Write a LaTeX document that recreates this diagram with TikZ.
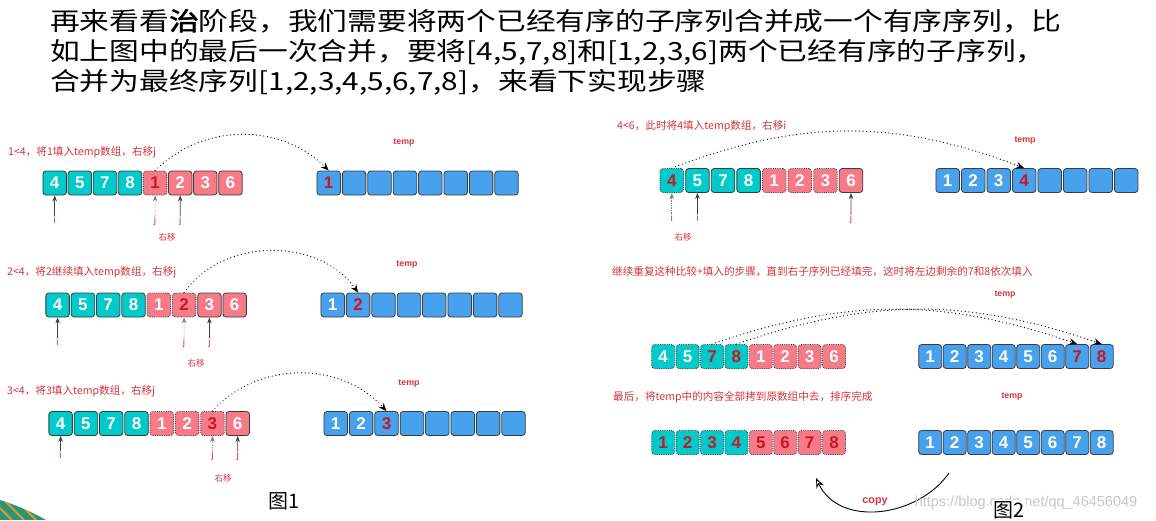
\documentclass[tikz,border=0pt]{standalone}
\usepackage{fontspec}
\setmainfont{Noto Sans CJK SC}[AutoFakeBold=2]
\newfontfamily\titlefont{Noto Sans CJK SC}[FakeStretch=1.19,AutoFakeBold=2.5]
\newfontfamily\numfont{Liberation Sans}
\usetikzlibrary{arrows.meta}
\definecolor{tealc}{RGB}{0,202,202}
\definecolor{pinkc}{RGB}{246,122,136}
\definecolor{bluec}{RGB}{72,161,236}
\definecolor{edgec}{RGB}{60,60,60}
\definecolor{notered}{RGB}{212,52,58}
\definecolor{digred}{RGB}{196,26,38}
\definecolor{decogreen}{RGB}{38,150,120}
\definecolor{decoorange}{RGB}{232,150,40}

\begin{document}
\begin{tikzpicture}[x=1pt,y=-1pt,
  cell/.style={draw=edgec, line width=0.8pt, rounded corners=3pt, minimum width=23.5pt,
    minimum height=24pt, inner sep=0pt, font=\numfont\bfseries\fontsize{17}{17}\selectfont},
  tc/.style={cell, fill=tealc},
  td/.style={cell, fill=tealc, densely dotted},
  pc/.style={cell, fill=pinkc},
  pd/.style={cell, fill=pinkc, densely dotted},
  bc/.style={cell, fill=bluec},
  title/.style={anchor=west, inner sep=0pt, font=\titlefont\fontsize{25}{30}\selectfont},
  note/.style={anchor=west, inner sep=0pt, text=notered, font=\fontsize{10.6}{12}\selectfont},
  tmplabel/.style={text=notered, font=\numfont\bfseries\fontsize{8.8}{10}\selectfont},
  ptrlabel/.style={anchor=north, inner sep=0.5pt, text=notered, font=\numfont\fontsize{10}{10}\selectfont},
  shiftlabel/.style={text=notered, font=\fontsize{8.5}{10}\selectfont},
  figlabel/.style={font=\fontsize{20}{20}\selectfont},
  ptr/.style={-{Stealth[length=6pt,width=4.5pt]}, line width=0.7pt, draw=black!75},
  oldptr/.style={ptr, densely dotted, draw=black!50},
  hop/.style={-{Stealth[length=8pt,width=6.5pt]}, line width=1.2pt,
    dash pattern=on 0.1pt off 3.6pt, line cap=round},
  copyarrow/.style={-{Stealth[open,length=10pt,width=8pt]}, line width=0.9pt},
  ]
  \useasboundingbox (0,0) rectangle (1156,520);
  \fill[white] (0,0) rectangle (1156,520);

  %%% slide corner decoration %%%
  \begin{scope}
    \clip (0,500) .. controls (16,505) and (32,512) .. (46,520) -- (0,520) -- cycle;
    \fill[decogreen] (0,495) rectangle (50,520);
    \foreach \sx in {-8,4,16,28}
      \draw[decoorange, line width=2pt] (\sx,500) -- (\sx+20,520);
  \end{scope}

  %%% heading %%%
  \node[title] (line1) at (50,21) {再来看看\textbf{治}阶段，我们需要将两个已经有序的子序列合并成一个有序序列，比};
  \node[title] (line2) at (50,52) {如上图中的最后一次合并，要将[4,5,7,8]和[1,2,3,6]两个已经有序的子序列，};
  \node[title] (line3) at (50,82) {合并为最终序列[1,2,3,4,5,6,7,8]，来看下实现步骤};

  %%% step 1: 1<4 %%%
  \node[note] (p1note) at (8,152) {1<4，将1填入temp数组，右移j};
  \foreach \k/\v/\s/\d in {1/4/tc/white,2/5/tc/white,3/7/tc/white,4/8/tc/white,
                          5/1/pd/digred,6/2/pc/white,7/3/pc/white,8/6/pc/white}
    \node[\s, text=\d] (p1a\k) at ({54.7+25.1*(\k-1)},183) {\v};
  \node[tmplabel] (p1tmp) at (404,143) {temp};
  \foreach \k/\v/\d in {1/1/digred,2//white,3//white,4//white,5//white,6//white,7//white,8//white}
    \node[bc, text=\d] (p1t\k) at ({328.7+25.4*(\k-1)},183) {\v};
  \node[ptrlabel] (p1i) at (54.7,216) {i};
  \node[ptrlabel] (p1jo) at (155.1,216) {j};
  \node[ptrlabel] (p1j) at (180.2,216) {j};
  \node[shiftlabel] (p1shift) at (167,237) {右移};
  \draw[ptr] (p1i) -- (p1a1);
  \draw[oldptr] (p1jo) -- (p1a5);
  \draw[ptr] (p1j) -- (p1a6);
  \draw[hop] (p1a5.north) to[bend left=45] (p1t1.north);

  %%% step 2: 2<4 %%%
  \node[note] (p2note) at (7,272) {2<4，将2继续填入temp数组，右移j};
  \foreach \k/\v/\s/\d in {1/4/tc/white,2/5/tc/white,3/7/tc/white,4/8/tc/white,
                          5/1/pd/white,6/2/pd/digred,7/3/pc/white,8/6/pc/white}
    \node[\s, text=\d] (p2a\k) at ({57.6+25.3*(\k-1)},305) {\v};
  \node[tmplabel] (p2tmp) at (407,265) {temp};
  \foreach \k/\v/\d in {1/1/white,2/2/digred,3//white,4//white,5//white,6//white,7//white,8//white}
    \node[bc, text=\d] (p2t\k) at ({332.7+25.4*(\k-1)},305) {\v};
  \node[ptrlabel] (p2i) at (57.6,338) {i};
  \node[ptrlabel] (p2jo) at (184.1,338) {j};
  \node[ptrlabel] (p2j) at (209.4,338) {j};
  \node[shiftlabel] (p2shift) at (196,363) {右移};
  \draw[ptr] (p2i) -- (p2a1);
  \draw[oldptr] (p2jo) -- (p2a6);
  \draw[ptr] (p2j) -- (p2a7);
  \draw[hop] (p2a6.north) to[bend left=55] (p2t2.north);

  %%% step 3: 3<4 %%%
  \node[note] (p3note) at (7,391) {3<4，将3填入temp数组，右移j};
  \foreach \k/\v/\s/\d in {1/4/tc/white,2/5/tc/white,3/7/tc/white,4/8/tc/white,
                          5/1/pd/white,6/2/pd/white,7/3/pd/digred,8/6/pc/white}
    \node[\s, text=\d] (p3a\k) at ({60.6+25.3*(\k-1)},423.5) {\v};
  \node[tmplabel] (p3tmp) at (409,384) {temp};
  \foreach \k/\v/\d in {1/1/white,2/2/white,3/3/digred,4//white,5//white,6//white,7//white,8//white}
    \node[bc, text=\d] (p3t\k) at ({335.7+25.4*(\k-1)},423.5) {\v};
  \node[ptrlabel] (p3i) at (60.6,451) {i};
  \node[ptrlabel] (p3jo) at (212.4,451) {j};
  \node[ptrlabel] (p3j) at (237.7,451) {j};
  \node[shiftlabel] (p3shift) at (223,478) {右移};
  \draw[ptr] (p3i) -- (p3a1);
  \draw[oldptr] (p3jo) -- (p3a7);
  \draw[ptr] (p3j) -- (p3a8);
  \draw[hop] (p3a7.north) to[bend left=48] (p3t3.north);
  \node[figlabel] (fig1) at (284,501) {图1};

  %%% step 4: 4<6 %%%
  \node[note] (p4note) at (617,126) {4<6，此时将4填入temp数组，右移i};
  \foreach \k/\v/\s/\d in {1/4/td/digred,2/5/tc/white,3/7/tc/white,4/8/tc/white,
                          5/1/pd/white,6/2/pd/white,7/3/pd/white,8/6/pc/white}
    \node[\s, text=\d] (p4a\k) at ({671.8+25.6*(\k-1)},180.5) {\v};
  \node[tmplabel] (p4tmp) at (1025,141) {temp};
  \foreach \k/\v/\d in {1/1/white,2/2/white,3/3/white,4/4/digred,5//white,6//white,7//white,8//white}
    \node[bc, text=\d] (p4t\k) at ({947.7+25.5*(\k-1)},180.5) {\v};
  \node[ptrlabel] (p4io) at (671.8,214) {i};
  \node[ptrlabel] (p4i) at (697.4,214) {i};
  \node[ptrlabel] (p4j) at (851,214) {j};
  \node[shiftlabel] (p4shift) at (683,237) {右移};
  \draw[oldptr] (p4io) -- (p4a1);
  \draw[ptr] (p4i) -- (p4a2);
  \draw[ptr] (p4j) -- (p4a8);
  \draw[hop] (p4a1.north) to[bend left=21] (p4t4.north);

  %%% step 5: remaining 7 and 8 %%%
  \node[note] (p5note) at (612,272) {继续重复这种比较+填入的步骤，直到右子序列已经填完，这时将左边剩余的7和8依次填入};
  \node[tmplabel] (p5tmp) at (1005,295) {temp};
  \foreach \k/\v/\s/\d in {1/4/td/white,2/5/td/white,3/7/td/digred,4/8/td/digred,
                          5/1/pd/white,6/2/pd/white,7/3/pd/white,8/6/pd/white}
    \node[\s, text=\d, minimum width=23pt] (p5a\k) at ({663.2+24.4*(\k-1)},356.5) {\v};
  \foreach \k/\v/\d in {1/1/white,2/2/white,3/3/white,4/4/white,5/5/white,6/6/white,7/7/digred,8/8/digred}
    \node[bc, text=\d, minimum width=23pt] (p5t\k) at ({930.2+24.5*(\k-1)},356.5) {\v};
  \draw[hop] (p5a3.north) to[bend left=19] (p5t7.north);
  \draw[hop] (p5a4.north) to[bend left=19] (p5t8.north);

  %%% step 6: copy back %%%
  \node[note] (p6note) at (613,397) {最后，将temp中的内容全部拷到原数组中去，排序完成};
  \node[tmplabel] (p6tmp) at (1012,397) {temp};
  \foreach \k/\v/\s in {1/1/td,2/2/td,3/3/td,4/4/td,5/5/pd,6/6/pd,7/7/pd,8/8/pd}
    \node[\s, text=digred, minimum width=23pt] (p6a\k) at ({663.2+24.4*(\k-1)},442.5) {\v};
  \foreach \k in {1,...,8}
    \node[bc, text=white, minimum width=23pt] (p6t\k) at ({930.2+24.5*(\k-1)},442.5) {\k};
  \coordinate (cpfrom) at (949,473);
  \coordinate (cpto) at (816,478);
  \draw[copyarrow] (cpfrom) to[out=235,in=295,looseness=1.05] (cpto);
  \node[text=notered, font=\numfont\bfseries\fontsize{10.8}{12}\selectfont] (p6copy) at (875,502) {copy};
  \node[text=black!22, font=\numfont\fontsize{14.5}{15}\selectfont] (mark) at (1026,503) {https://blog.csdn.net/qq\_46456049};
  \node[figlabel, fill=white, inner sep=1pt] (fig2) at (1009,510) {图2};
\end{tikzpicture}
\end{document}
